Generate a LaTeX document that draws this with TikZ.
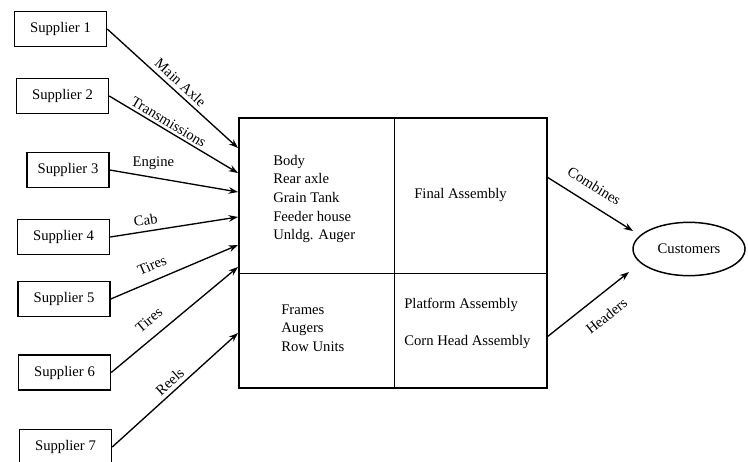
\documentclass[tikz,border=0pt]{standalone}
\usepackage{fontspec}
\setmainfont{Liberation Serif}
\usetikzlibrary{arrows.meta,shapes.geometric}
\tikzset{
	supbox/.style={draw, line width=1.1pt, minimum width=69pt, minimum height=26pt, inner sep=0pt},
	flow/.style={line width=1pt, -{Stealth[length=7pt,width=5pt]}},
	lbl/.style={font=\fontsize{11}{13}\selectfont, inner sep=2pt}
}
\begin{document}
\begin{tikzpicture}[x=0.75pt, y=-0.75pt, font=\fontsize{11}{13}\selectfont]
	\useasboundingbox (0,0) rectangle (748,461);
	% suppliers
	\node[supbox] (s1) at (60.5,29) {Supplier 1};
	\node[supbox] (s2) at (62.5,96) {Supplier 2};
	\node[supbox, minimum width=61.5pt] (s3) at (68,170) {Supplier 3};
	\node[supbox] (s4) at (63.5,237) {Supplier 4};
	\node[supbox] (s5) at (64,299) {Supplier 5};
	\node[supbox] (s6) at (64.5,372.5) {Supplier 6};
	\node[supbox] (s7) at (65.5,447) {Supplier 7};
	% plant
	\node[draw, line width=1.1pt, minimum width=231pt, minimum height=202.5pt, inner sep=0pt] (plant) at (393,253) {};
	\draw[line width=1.1pt] (plant.north west) ++(156,0) coordinate (mtop) -- (mtop |- plant.south);
	\draw[line width=1.1pt] (plant.north west) ++(0,156) coordinate (mleft) -- (mleft -| plant.east);
	\node[anchor=west, align=left, font=\fontsize{11}{13.9}\selectfont, inner sep=0pt] (body) at (273,199) {Body\\Rear axle\\Grain Tank\\Feeder house\\Unldg. Auger};
	\node[anchor=west, inner sep=0pt] (final) at (414,195) {Final Assembly};
	\node[anchor=west, align=left, font=\fontsize{11}{13.9}\selectfont, inner sep=0pt] (frames) at (281,328) {Frames\\Augers\\Row Units};
	\node[anchor=west, inner sep=0pt] (platform) at (404,305) {Platform Assembly};
	\node[anchor=west, inner sep=0pt] (corn) at (404,342) {Corn Head Assembly};
	% customers
	\node[draw, ellipse, line width=1.1pt, minimum width=84pt, minimum height=40pt, inner sep=0pt] (cust) at (689,249) {Customers};
	% arrow ends
	\coordinate (a1) at (238,148);
	\coordinate (a2) at (238,173);
	\coordinate (a3) at (238,192);
	\coordinate (a4) at (238,217);
	\coordinate (a5) at (238,245);
	\coordinate (a6) at (238,267);
	\coordinate (a7) at (238,333);
	\coordinate (b1) at (547,177);
	\coordinate (b2) at (547,337);
	\coordinate (c1) at (633,231);
	\coordinate (c2) at (629,272);
	% flows in
	\draw[flow] (s1.east) -- (a1) node[lbl, pos=0.51, above=1pt, sloped] {Main Axle};
	\draw[flow] (s2.east) -- (a2) node[lbl, pos=0.43, above, sloped] {Transmissions};
	\draw[flow] (s3.east) -- (a3) node[lbl, pos=0.34, above=3pt] {Engine};
	\draw[flow] (s4.east) -- (a4) node[lbl, pos=0.29, above=2pt, sloped] {Cab};
	\draw[flow] (s5.east) -- (a5) node[lbl, pos=0.37, above=5pt, sloped] {Tires};
	\draw[flow] (s6.east) -- (a6) node[lbl, pos=0.38, above=6pt, sloped] {Tires};
	\draw[flow] (s7.east) -- (a7) node[lbl, pos=0.51, above=1pt, sloped] {Reels};
	% flows out
	\draw[flow] (b1) -- (c1) node[lbl, pos=0.44, above=7pt, sloped] {Combines};
	\draw[flow] (b2) -- (c2) node[lbl, pos=0.57, below=9pt, sloped] {Headers};
\end{tikzpicture}
\end{document}
